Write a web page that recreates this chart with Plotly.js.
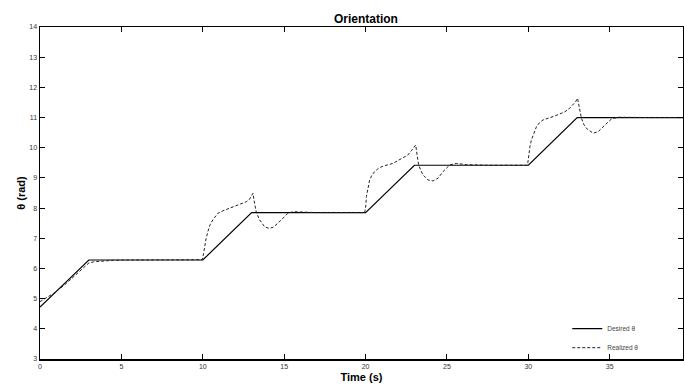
<!DOCTYPE html>
<html>
<head>
<meta charset="utf-8">
<script src="https://cdn.plot.ly/plotly-3.0.1.min.js"></script>
<style>
html,body{margin:0;padding:0;background:#fff;}
#chart{width:684px;height:385px;}
</style>
</head>
<body>
<div id="chart"></div>
<script>
// Desired orientation (rad) vs time (s)
const desiredT = [0, 3, 10, 13, 20, 23, 30, 33, 39.5];
const desiredY = [4.72, 6.28, 6.28, 7.85, 7.85, 9.42, 9.42, 11.0, 11.0];

// Realized orientation (rad) vs time (s)
const realizedT = [
  0, 0.4, 0.85, 1.5, 2.2, 2.8, 3.0, 3.3, 3.8, 4.5, 5.5, 7, 9.97,
  10.05, 10.11, 10.2, 10.31, 10.45, 10.62, 10.78, 10.93, 11.24, 11.65, 12.16, 12.5, 12.67, 12.85, 12.98, 13.08,
  13.18, 13.29, 13.49, 13.65, 13.80, 14.06, 14.31, 14.62, 14.92, 15.23, 15.54, 15.95, 17, 19.95,
  20.02, 20.05, 20.15, 20.25, 20.4, 20.56, 20.8, 21.07, 21.68, 22.3, 22.6, 22.81, 22.95, 23.08,
  23.18, 23.26, 23.4, 23.53, 23.84, 24.14, 24.45, 24.76, 25.17, 25.58, 26.2, 27.5, 29.95,
  30.0, 30.03, 30.1, 30.19, 30.35, 30.5, 30.7, 30.9, 31.62, 32.24, 32.5, 32.75, 32.9, 33.02,
  33.12, 33.26, 33.4, 33.57, 33.98, 34.28, 34.7, 35.1, 35.5, 36.1, 37.5, 39.5
];
const realizedY = [
  4.90, 5.03, 5.18, 5.45, 5.80, 6.10, 6.18, 6.22, 6.25, 6.27, 6.28, 6.28, 6.29,
  6.50, 6.72, 6.98, 7.22, 7.45, 7.61, 7.74, 7.83, 7.91, 7.99, 8.10, 8.17, 8.21, 8.28, 8.38, 8.49,
  8.16, 7.85, 7.61, 7.48, 7.38, 7.33, 7.36, 7.50, 7.66, 7.83, 7.88, 7.87, 7.85, 7.85,
  8.10, 8.38, 8.70, 8.93, 9.10, 9.21, 9.32, 9.39, 9.48, 9.65, 9.76, 9.90, 9.98, 10.09,
  9.70, 9.43, 9.24, 9.10, 8.93, 8.90, 8.99, 9.21, 9.43, 9.48, 9.44, 9.42, 9.42,
  9.62, 9.82, 10.05, 10.26, 10.52, 10.70, 10.84, 10.92, 11.05, 11.19, 11.29, 11.42, 11.52, 11.64,
  11.31, 10.98, 10.78, 10.64, 10.48, 10.53, 10.75, 10.95, 11.01, 11.00, 11.00, 11.00
];

const xTicks = [0, 5, 10, 15, 20, 25, 30, 35];
const yTicks = [3, 4, 5, 6, 7, 8, 9, 10, 11, 12, 13, 14];

const traces = [
  {
    x: desiredT, y: desiredY, type: 'scatter', mode: 'lines',
    name: 'Desired θ',
    line: {color: '#000', width: 1.2}
  },
  {
    x: realizedT, y: realizedY, type: 'scatter', mode: 'lines',
    name: 'Realized θ',
    line: {color: '#222', width: 1, dash: '3px,2px'}
  }
];

const axFont = {family: 'Liberation Sans, Arial, sans-serif', size: 7, color: '#333'};
const layout = {
  width: 684, height: 385,
  margin: {l: 40, r: 1, t: 27, b: 26, pad: 0},
  paper_bgcolor: '#fff', plot_bgcolor: '#fff',
  showlegend: true,
  title: {
    text: '<b>Orientation</b>',
    font: {family: 'Liberation Sans, Arial, sans-serif', size: 12, color: '#000'},
    x: 0.535, xanchor: 'center', y: 0.963, yanchor: 'top'
  },
  xaxis: {
    range: [0, 39.5], tickvals: xTicks, ticktext: xTicks.map(String),
    ticks: 'inside', ticklen: 5, tickwidth: 1, tickcolor: '#000',
    showline: true, linecolor: '#000', linewidth: 1.5, mirror: 'ticks',
    showgrid: false, zeroline: false, tickfont: axFont,
    title: {text: '<b>Time (s)</b>', font: {family: 'Liberation Sans, Arial, sans-serif', size: 11, color: '#000'}, standoff: 4}
  },
  yaxis: {
    range: [3, 14], tickvals: yTicks, ticktext: yTicks.map(String),
    ticks: 'inside', ticklen: 5, tickwidth: 1, tickcolor: '#000',
    showline: true, linecolor: '#000', linewidth: 1.5, mirror: 'ticks',
    showgrid: false, zeroline: false, tickfont: axFont,
    title: {text: '<b>θ (rad)</b>', font: {family: 'Liberation Sans, Arial, sans-serif', size: 11, color: '#000'}, standoff: 1}
  },
  legend: {
    x: 0.82, y: 0.135, xanchor: 'left', yanchor: 'top',
    bgcolor: 'rgba(0,0,0,0)', borderwidth: 0,
    font: {family: 'Liberation Sans, Arial, sans-serif', size: 6.5, color: '#444'},
    itemwidth: 30, tracegroupgap: 0
  }
};

Plotly.newPlot('chart', traces, layout, {displayModeBar: false, staticPlot: true});
</script>
</body>
</html>
